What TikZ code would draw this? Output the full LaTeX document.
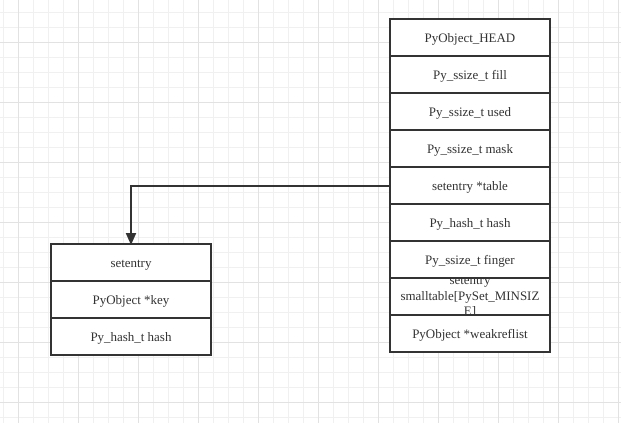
\documentclass[tikz,border=0pt]{standalone}
\usepackage{fontspec}
\setmainfont{Liberation Serif}
\usetikzlibrary{positioning,arrows.meta}

\definecolor{ink}{HTML}{333333}
\definecolor{minorgrid}{HTML}{F0F0F0}
\definecolor{majorgrid}{HTML}{E2E2E2}

\tikzset{
  cell/.style={draw=ink, line width=2bp, fill=white, outer sep=0pt,
    minimum width=160bp, minimum height=37bp, inner sep=0pt,
    text height=10.5bp, text depth=1.5bp,
    text=ink, font=\fontsize{13}{15.5}\selectfont, align=center},
  link/.style={draw=ink, line width=2bp, -{Triangle[length=12bp,width=10bp]}}
}

\begin{document}
\begin{tikzpicture}[x=1bp, y=-1bp]
  \useasboundingbox (0, 0) rectangle (621, 423);
  \fill[white] (0, 0) rectangle (621, 423);

  % background grid
  \foreach \gx in {3.5, 18.5, ..., 620} \draw[minorgrid, line width=1bp] (\gx, 0) -- (\gx, 423);
  \foreach \gy in {12.5, 27.5, ..., 422} \draw[minorgrid, line width=1bp] (0, \gy) -- (621, \gy);
  \foreach \gx in {18.5, 78.5, ..., 620} \draw[majorgrid, line width=1bp] (\gx, 0) -- (\gx, 423);
  \foreach \gy in {42.5, 102.5, ..., 422} \draw[majorgrid, line width=1bp] (0, \gy) -- (621, \gy);

  % PySetObject
  \node[cell, anchor=north west] (head) at (390, 19) {PyObject\_HEAD};
  \node[cell, below=0pt of head] (fill) {Py\_ssize\_t fill};
  \node[cell, below=0pt of fill] (used) {Py\_ssize\_t used};
  \node[cell, below=0pt of used] (mask) {Py\_ssize\_t mask};
  \node[cell, below=0pt of mask] (table) {setentry *table};
  \node[cell, below=0pt of table] (hash) {Py\_hash\_t hash};
  \node[cell, below=0pt of hash] (finger) {Py\_ssize\_t finger};
  \node[cell, below=0pt of finger] (small) {};
  \begin{scope}
    \clip (small.north west) rectangle (small.south east);
    \node[text=ink, font=\fontsize{13}{15.5}\selectfont, align=center, text width=155bp]
      at ([yshift=-1bp]small.center) {setentry\\ smalltable[PySet\_MINSIZ\\ E]};
  \end{scope}
  \draw[ink, line width=2bp] (small.north west) rectangle (small.south east);
  \node[cell, below=0pt of small] (weak) {PyObject *weakreflist};

  % setentry
  \node[cell, anchor=north west] (entry) at (51, 244) {setentry};
  \node[cell, below=0pt of entry] (key) {PyObject *key};
  \node[cell, below=0pt of key] (ehash) {Py\_hash\_t hash};

  \draw[link] (table.west) -| ([yshift=-1bp]entry.north);
\end{tikzpicture}
\end{document}
